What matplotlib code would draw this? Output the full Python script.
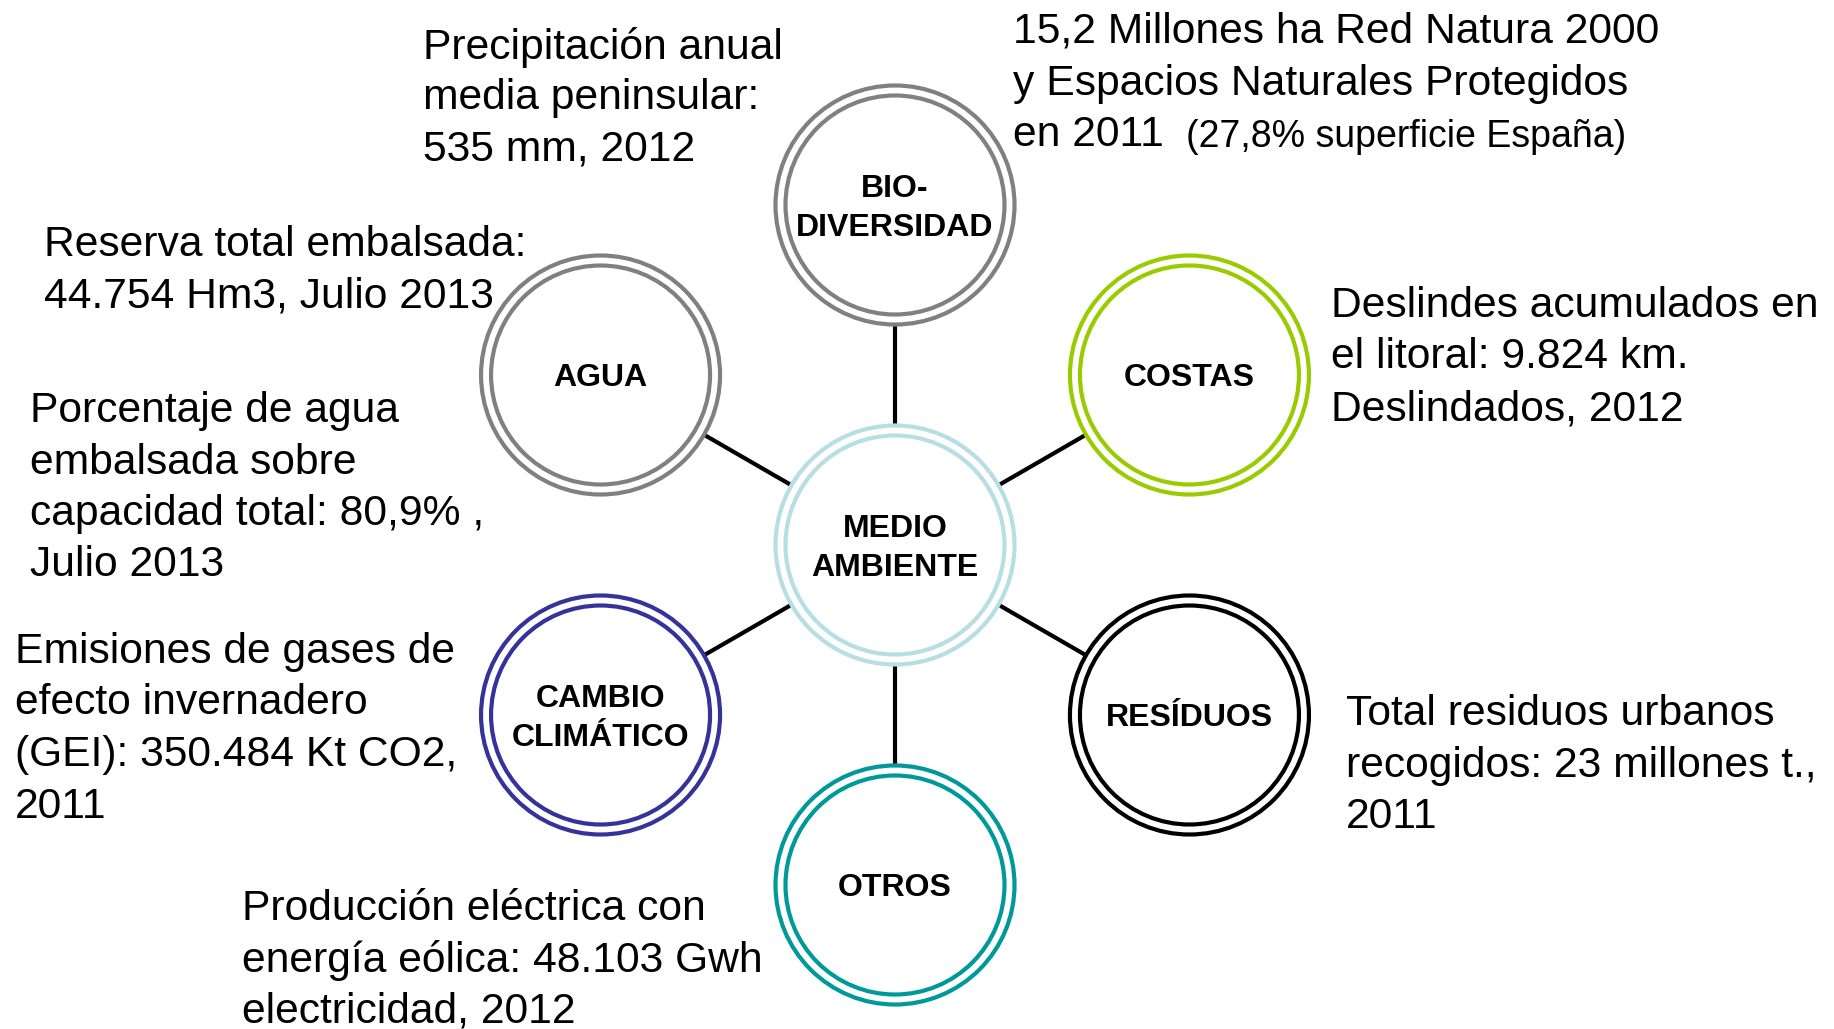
import numpy as np
import matplotlib.pyplot as plt
from matplotlib.patches import Circle

plt.rcParams['font.family'] = ['Liberation Sans', 'DejaVu Sans']

# ---------- DATA ----------
center_label = "MEDIO\nAMBIENTE"
center_color = "#b7dfe3"

node_labels = ["BIO-\nDIVERSIDAD", "COSTAS", "RESÍDUOS", "OTROS", "CAMBIO\nCLIMÁTICO", "AGUA"]
node_colors = ["#808080", "#99cc00", "#000000", "#009999", "#333399", "#808080"]

notes = [
    ["Precipitación anual", "media peninsular:", "535 mm, 2012"],
    ["15,2 Millones ha Red Natura 2000", "y Espacios Naturales Protegidos", "en 2011"],
    ["Reserva total embalsada:", "44.754 Hm3, Julio 2013"],
    ["Porcentaje de agua", "embalsada sobre", "capacidad total: 80,9% ,", "Julio 2013"],
    ["Deslindes acumulados en", "el litoral: 9.824 km.", "Deslindados, 2012"],
    ["Emisiones de gases de", "efecto invernadero", "(GEI): 350.484 Kt CO2,", "2011"],
    ["Total residuos urbanos", "recogidos: 23 millones t.,", "2011"],
    ["Producción eléctrica con", "energía eólica: 48.103 Gwh", "electricidad, 2012"],
]
small_note = "(27,8% superficie España)"

# ---------- LAYOUT ----------
W, H = 1834, 1029
cx, cy = 895, 545
dist = 340
r_out, r_in = 119.5, 109.5
note_xy = [(423, 47), (1013, 32), (44, 245), (30, 411),
           (1331, 306), (15, 652), (1346, 714), (242, 909)]
pitch = 51.5

fig = plt.figure(figsize=(W / 100, H / 100), dpi=100)
ax = fig.add_axes([0, 0, 1, 1])
ax.set_xlim(0, W)
ax.set_ylim(H, 0)
ax.set_aspect('equal')
ax.axis('off')


def ring(x, y, color, label):
    ax.add_patch(Circle((x, y), r_out, facecolor='white', edgecolor=color, lw=3.0, zorder=2))
    ax.add_patch(Circle((x, y), r_in, facecolor='none', edgecolor=color, lw=3.0, zorder=3))
    ax.text(x, y + 3.5, label, ha='center', va='center', fontsize=23, fontweight='bold',
            linespacing=1.35, zorder=4)


# nodes around the centre, starting at the top, clockwise
for i, (lab, col) in enumerate(zip(node_labels, node_colors)):
    ang = np.deg2rad(90 - 60 * i)
    x = cx + dist * np.cos(ang)
    y = cy - dist * np.sin(ang)
    ax.plot([cx, x], [cy, y], color='black', lw=3.0, zorder=1, solid_capstyle='butt')
    ring(x, y, col, lab)

ring(cx, cy, center_color, center_label)

# ---------- NOTES ----------
for (x, y), lines in zip(note_xy, notes):
    for j, line in enumerate(lines):
        ax.text(x, y + j * pitch, line, ha='left', va='center', fontsize=30.7)

# smaller remark after "en 2011"
t = ax.text(note_xy[1][0], note_xy[1][1] + 2 * pitch, "en 2011", fontsize=30.7,
            ha='left', va='center', alpha=0)
fig.canvas.draw()
bb = t.get_window_extent()
x_end = ax.transData.inverted().transform((bb.x1, bb.y0))[0]
ax.text(x_end + 22, note_xy[1][1] + 2 * pitch + 2, small_note, ha='left', va='center', fontsize=27)

fig.savefig("out.png", dpi=100, facecolor='white')
